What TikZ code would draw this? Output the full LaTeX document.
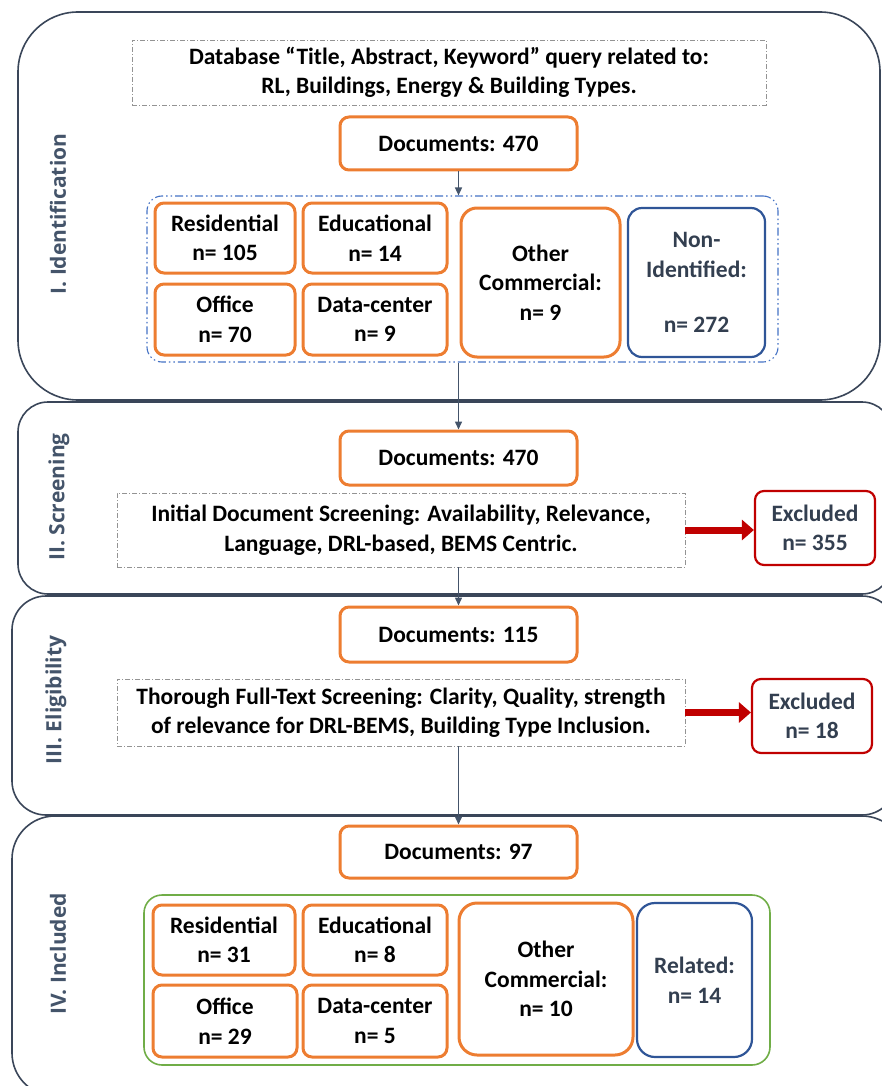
\documentclass[tikz,border=0pt]{standalone}
\usepackage{fontspec}
\setmainfont{Carlito}
\newfontfamily\lblfont{Open Sans}
\usetikzlibrary{arrows.meta}

\definecolor{slate}{HTML}{44546A}
\definecolor{paneledge}{HTML}{3A4659}
\definecolor{orng}{HTML}{ED7D31}
\definecolor{blu}{HTML}{2F5597}
\definecolor{grpblue}{HTML}{4472C4}
\definecolor{redd}{HTML}{C00000}
\definecolor{grn}{HTML}{70AD47}
\definecolor{txtdark}{HTML}{333F50}

\tikzset{
  panel/.style={draw=paneledge, line width=1.6pt},
  txt/.style={font=\fontsize{23.5}{29.5}\selectfont\bfseries, align=center, inner sep=0pt},
  obox/.style={txt, draw=orng, line width=3pt, rounded corners=9pt, fill=white},
  bbox/.style={txt, draw=blu, line width=2.2pt, rounded corners=14pt, fill=white, text=txtdark},
  rbox/.style={txt, draw=redd, line width=2.2pt, rounded corners=9pt, fill=white, text=txtdark},
  qbox/.style={txt, draw=gray!85, line width=0.9pt, dash pattern=on 5pt off 2pt on 1pt off 2pt, fill=white},
  idgroup/.style={draw=grpblue, line width=1.1pt, rounded corners=15pt,
    dash pattern=on 8pt off 3pt on 1.5pt off 3pt on 1.5pt off 3pt, inner sep=0pt},
  ingroup/.style={draw=grn, line width=1.6pt, rounded corners=18pt, inner sep=0pt},
  flow/.style={draw=slate, line width=1.5pt, -{Triangle[length=8pt,width=7pt]}},
  outflow/.style={draw=redd, line width=7pt, -{Triangle[length=12pt,width=20pt]}},
  stage/.style={font=\lblfont\fontsize{21}{26}\selectfont\bfseries, text=slate, rotate=90},
}

\begin{document}
\begin{tikzpicture}[x=1pt, y=-1pt]
\useasboundingbox (0,0) rectangle (882,1086);
\clip (0,0) rectangle (882,1086);

% stage panels
\draw[panel, rounded corners=60pt] (18,12) rectangle (880,400);
\draw[panel, rounded corners=30pt] (18,402) rectangle (892,594);
\draw[panel, rounded corners=34pt] (12,596) rectangle (896,815);
\draw[panel, rounded corners=43pt] (12,816) rectangle (905,1096);

% stage titles
\node[stage] (lblA) at (58,214) {I. Identification};
\node[stage] (lblB) at (59,497) {II. Screening};
\node[stage] (lblC) at (56,700) {III. Eligibility};
\node[stage] (lblD) at (58,954) {IV. Included};

% I. Identification
\node[qbox, minimum width=634, minimum height=65] (query) at (449,72.5)
  {Database “Title, Abstract, Keyword” query related to:\\RL, Buildings, Energy \& Building Types.};
\node[obox, minimum width=237, minimum height=53] (docsA) at (458.5,143.5) {Documents: 470};
\node[idgroup, minimum width=631, minimum height=166] (idgrp) at (462.5,279) {};
\node[obox, minimum width=140, minimum height=70] (resA) at (225,238) {Residential\\n= 105};
\node[obox, minimum width=144, minimum height=70] (eduA) at (375,238) {Educational\\n= 14};
\node[obox, minimum width=140, minimum height=71] (offA) at (225,319.5) {Office\\n= 70};
\node[obox, minimum width=144, minimum height=71] (dcA) at (375,319.5) {Data-center\\n= 9};
\node[obox, rounded corners=16pt, minimum width=159, minimum height=149] (comA) at (540.5,282.5)
  {Other\\Commercial:\\n= 9};
\node[bbox, minimum width=137, minimum height=149] (nonA) at (696.5,282.5)
  {Non-\\Identified:\\[26pt]n= 272};

% II. Screening
\node[obox, minimum width=237, minimum height=54] (docsB) at (458.5,458) {Documents: 470};
\node[qbox, minimum width=568, minimum height=74] (scr) at (401,530)
  {Initial Document Screening: Availability, Relevance,\\Language, DRL-based, BEMS Centric.};
\node[rbox, minimum width=120, minimum height=74] (excA) at (815,528) {Excluded\\n= 355};

% III. Eligibility
\node[obox, minimum width=237, minimum height=55] (docsC) at (458.5,634.5) {Documents: 115};
\node[qbox, minimum width=568, minimum height=67] (full) at (401,712.5)
  {Thorough Full-Text Screening: Clarity, Quality, strength\\of relevance for DRL-BEMS, Building Type Inclusion.};
\node[rbox, minimum width=120, minimum height=74] (excB) at (812,716) {Excluded\\n= 18};

% IV. Included
\node[obox, minimum width=237, minimum height=52] (docsD) at (458.5,852) {Documents: 97};
\node[ingroup, minimum width=626, minimum height=170] (ingrp) at (457,980) {};
\node[obox, minimum width=142, minimum height=70] (resD) at (224,940) {Residential\\n= 31};
\node[obox, minimum width=144, minimum height=70] (eduD) at (375,940) {Educational\\n= 8};
\node[obox, minimum width=144, minimum height=72] (offD) at (225,1021) {Office\\n= 29};
\node[obox, minimum width=144, minimum height=72] (dcD) at (375,1021) {Data-center\\n= 5};
\node[obox, rounded corners=18pt, minimum width=174, minimum height=152] (comD) at (546,979)
  {Other\\Commercial:\\n= 10};
\node[bbox, rounded corners=18pt, minimum width=115, minimum height=154] (relD) at (694.5,980)
  {Related:\\n= 14};

% flow connectors
\draw[flow] (docsA.south) -- (docsA.south |- idgrp.north);
\draw[flow] (docsB.north |- idgrp.south) -- (docsB.north);
\draw[flow] (docsC.north |- scr.south) -- (docsC.north);
\draw[flow] (docsD.north |- full.south) -- (docsD.north);
\draw[outflow] (scr.east) -- (scr.east -| excA.west);
\draw[outflow] (full.east) -- (full.east -| excB.west);
\end{tikzpicture}
\end{document}
